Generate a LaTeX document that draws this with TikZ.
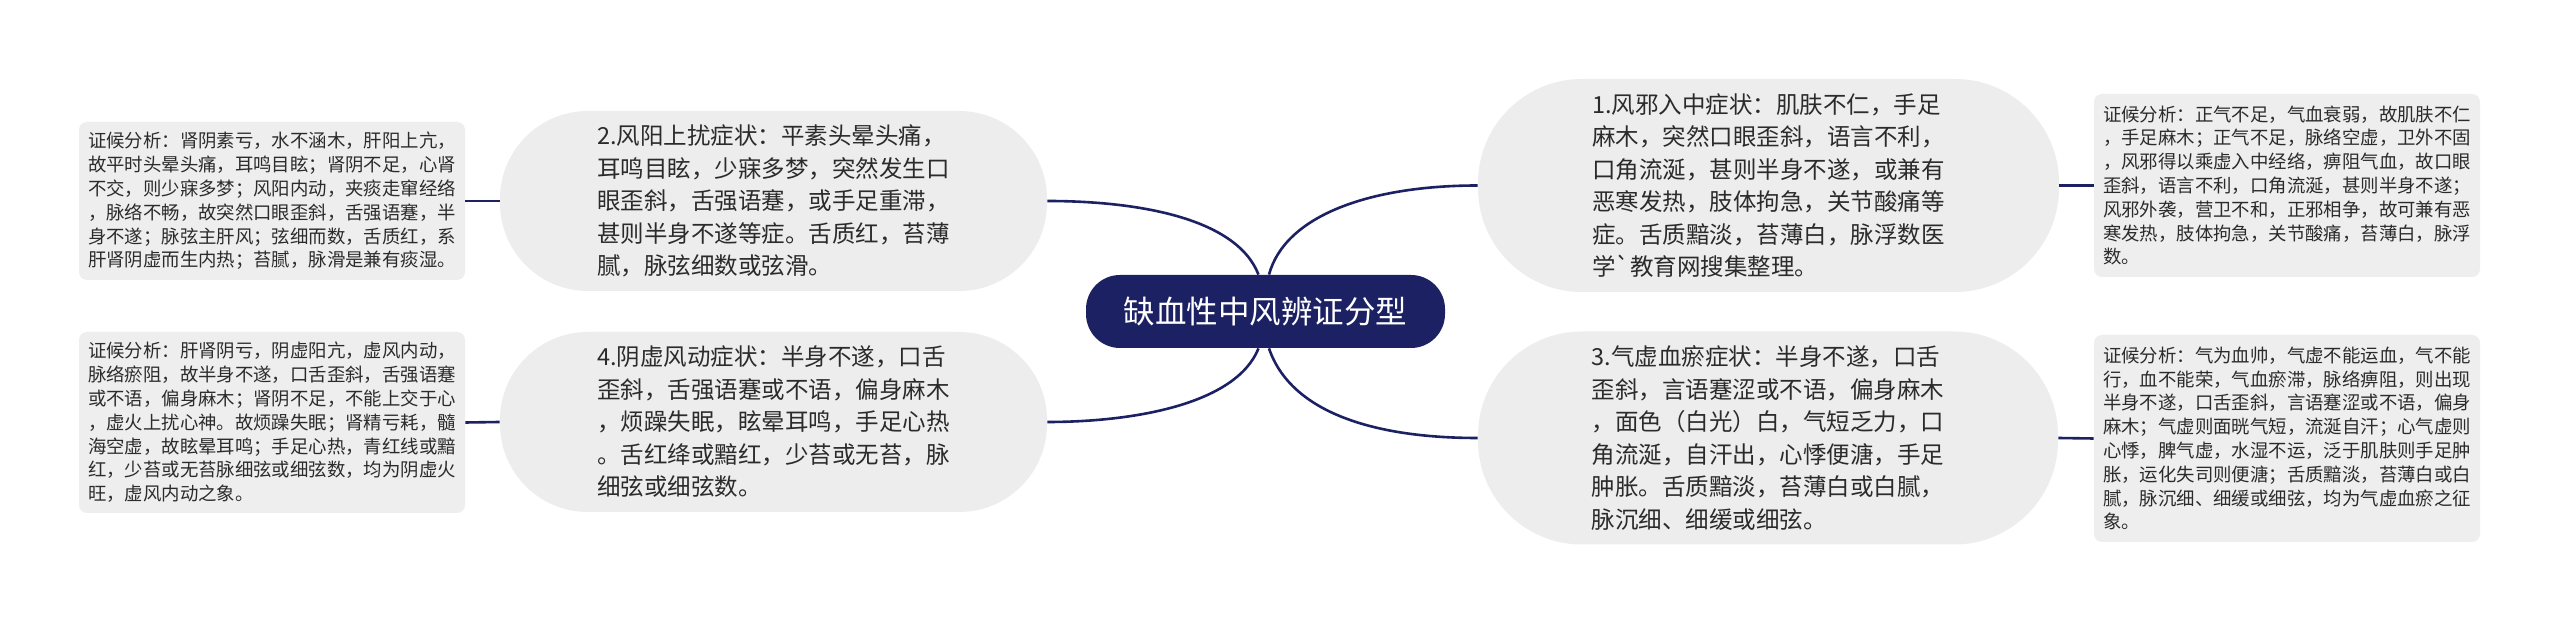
\documentclass[tikz,border=0pt]{standalone}
\usepackage{fontspec}
\newfontfamily\cjk{Noto Sans CJK SC}
\usepackage{tikz}

\definecolor{navy}{HTML}{1B2162}
\definecolor{topicgray}{HTML}{EDEDED}
\definecolor{notegray}{HTML}{EEEEEE}
\definecolor{inkgray}{HTML}{2B2B2B}

\begin{document}
\begin{tikzpicture}[
    x=0.5pt, y=-0.5pt,
    root/.style={fill=navy, text=white, rounded corners=17pt, inner sep=0pt,
        minimum width=179.5pt, minimum height=36.5pt,
        font=\cjk\fontsize{15.75}{18}\selectfont},
    topic/.style={fill=topicgray, text=inkgray, align=left, inner sep=0pt,
        font=\cjk\fontsize{11.75}{16.25}\selectfont},
    note/.style={fill=notegray, text=inkgray, align=left, rounded corners=4pt, inner sep=0pt,
        minimum width=193pt, font=\cjk\fontsize{9.2}{11.9}\selectfont},
    link/.style={draw=navy, line width=1.3pt}
]

\fill[white] (0,0) rectangle (2560,624);
\useasboundingbox (0,0) rectangle (2560,624);

% Root
\node[root] (root) at (1265.5,311.5) {缺血性中风辨证分型};

% Topics
\node[topic, minimum width=290.5pt, minimum height=106.5pt, rounded corners=52pt] (t1) at (1768.5,185.5) {%
1.风邪入中症状：肌肤不仁，手足\\
麻木，突然口眼歪斜，语言不利，\\
口角流涎，甚则半身不遂，或兼有\\
恶寒发热，肢体拘急，关节酸痛等\\
症。舌质黯淡，苔薄白，脉浮数医\\
学\textasciigrave 教育网搜集整理。};

\node[topic, minimum width=273.5pt, minimum height=90pt, rounded corners=44pt] (t2) at (773.5,201) {%
2.风阳上扰症状：平素头晕头痛，\\
耳鸣目眩，少寐多梦，突然发生口\\
眼歪斜，舌强语蹇，或手足重滞，\\
甚则半身不遂等症。舌质红，苔薄\\
腻，脉弦细数或弦滑。};

\node[topic, minimum width=290pt, minimum height=106.5pt, rounded corners=52pt] (t3) at (1768,438) {%
3.气虚血瘀症状：半身不遂，口舌\\
歪斜，言语蹇涩或不语，偏身麻木\\
，面色（白光）白，气短乏力，口\\
角流涎，自汗出，心悸便溏，手足\\
肿胀。舌质黯淡，苔薄白或白腻，\\
脉沉细、细缓或细弦。};

\node[topic, minimum width=273.5pt, minimum height=90pt, rounded corners=44pt] (t4) at (773.5,422) {%
4.阴虚风动症状：半身不遂，口舌\\
歪斜，舌强语蹇或不语，偏身麻木\\
，烦躁失眠，眩晕耳鸣，手足心热\\
。舌红绛或黯红，少苔或无苔，脉\\
细弦或细弦数。};

% Notes
\node[note, minimum height=91.5pt] (n1) at (2287,185.5) {%
证候分析：正气不足，气血衰弱，故肌肤不仁\\
，手足麻木；正气不足，脉络空虚，卫外不固\\
，风邪得以乘虚入中经络，痹阻气血，故口眼\\
歪斜，语言不利，口角流涎，甚则半身不遂；\\
风邪外袭，营卫不和，正邪相争，故可兼有恶\\
寒发热，肢体拘急，关节酸痛，苔薄白，脉浮\\
数。};

\node[note, minimum height=79pt] (n2) at (272,201) {%
证候分析：肾阴素亏，水不涵木，肝阳上亢，\\
故平时头晕头痛，耳鸣目眩；肾阴不足，心肾\\
不交，则少寐多梦；风阳内动，夹痰走窜经络\\
，脉络不畅，故突然口眼歪斜，舌强语蹇，半\\
身不遂；脉弦主肝风；弦细而数，舌质红，系\\
肝肾阴虚而生内热；苔腻，脉滑是兼有痰湿。};

\node[note, minimum height=103.5pt] (n3) at (2287,438.5) {%
证候分析：气为血帅，气虚不能运血，气不能\\
行，血不能荣，气血瘀滞，脉络痹阻，则出现\\
半身不遂，口舌歪斜，言语蹇涩或不语，偏身\\
麻木；气虚则面晄气短，流涎自汗；心气虚则\\
心悸，脾气虚，水湿不运，泛于肌肤则手足肿\\
胀，运化失司则便溏；舌质黯淡，苔薄白或白\\
腻，脉沉细、细缓或细弦，均为气虚血瘀之征\\
象。};

\node[note, minimum height=90.5pt] (n4) at (272,422.5) {%
证候分析：肝肾阴亏，阴虚阳亢，虚风内动，\\
脉络瘀阻，故半身不遂，口舌歪斜，舌强语蹇\\
或不语，偏身麻木；肾阴不足，不能上交于心\\
，虚火上扰心神。故烦躁失眠；肾精亏耗，髓\\
海空虚，故眩晕耳鸣；手足心热，青红线或黯\\
红，少苔或无苔脉细弦或细弦数，均为阴虚火\\
旺，虚风内动之象。};

% Links
\draw[link] ([xshift=-3.5pt]root.north) .. controls +(-23,-59) and +(83,0) .. (t2.east);
\draw[link] ([xshift=1.75pt]root.north) .. controls +(16,-59) and +(-108,0) .. (t1.west);
\draw[link] ([xshift=-3.5pt]root.south) .. controls +(-23,57) and +(83,0) .. (t4.east);
\draw[link] ([xshift=1.75pt]root.south) .. controls +(21,62) and +(-108,0) .. (t3.west);
\draw[link] (t2.west) -- (n2.east);
\draw[link] (t4.west) -- (n4.east);
\draw[link] (t1.east) -- (n1.west);
\draw[link] (t3.east) -- (n3.west);

\end{tikzpicture}
\end{document}
